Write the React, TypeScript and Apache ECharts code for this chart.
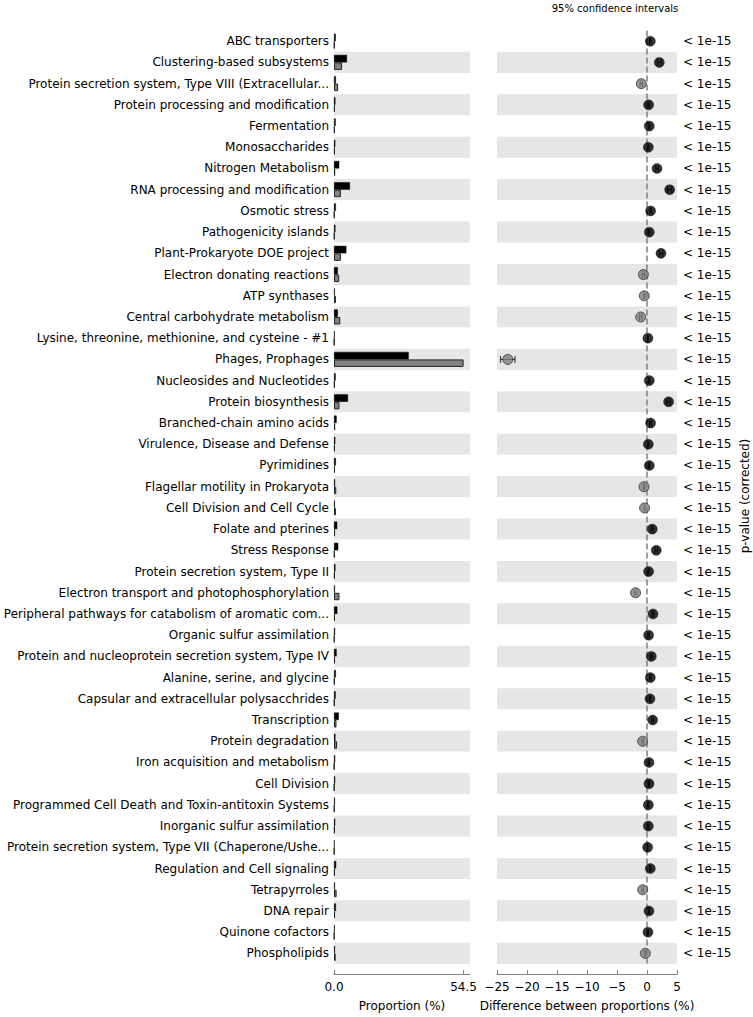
import React, { useEffect, useRef } from "react";
import * as echarts from "echarts";

const categories = [
  "ABC transporters",
  "Clustering-based subsystems",
  "Protein secretion system, Type VIII (Extracellular...",
  "Protein processing and modification",
  "Fermentation",
  "Monosaccharides",
  "Nitrogen Metabolism",
  "RNA processing and modification",
  "Osmotic stress",
  "Pathogenicity islands",
  "Plant-Prokaryote DOE project",
  "Electron donating reactions",
  "ATP synthases",
  "Central carbohydrate metabolism",
  "Lysine, threonine, methionine, and cysteine - #1",
  "Phages, Prophages",
  "Nucleosides and Nucleotides",
  "Protein biosynthesis",
  "Branched-chain amino acids",
  "Virulence, Disease and Defense",
  "Pyrimidines",
  "Flagellar motility in Prokaryota",
  "Cell Division and Cell Cycle",
  "Folate and pterines",
  "Stress Response",
  "Protein secretion system, Type II",
  "Electron transport and photophosphorylation",
  "Peripheral pathways for catabolism of aromatic com...",
  "Organic sulfur assimilation",
  "Protein and nucleoprotein secretion system, Type IV",
  "Alanine, serine, and glycine",
  "Capsular and extracellular polysacchrides",
  "Transcription",
  "Protein degradation",
  "Iron acquisition and metabolism",
  "Cell Division",
  "Programmed Cell Death and Toxin-antitoxin Systems",
  "Inorganic sulfur assimilation",
  "Protein secretion system, Type VII (Chaperone/Ushe...",
  "Regulation and Cell signaling",
  "Tetrapyrroles",
  "DNA repair",
  "Quinone cofactors",
  "Phospholipids",
];

// proportion (%) in group 1 (black) and group 2 (gray)
const group1 = [
  0.75, 5.45, 0.8, 0.6, 0.7, 0.55, 2.2, 6.7, 0.8, 0.6, 5.2, 1.6, 0.35, 1.6, 0.3,
  31.4, 0.7, 5.9, 1.1, 0.55, 0.8, 0.45, 0.4, 1.35, 1.8, 0.6, 0.4, 1.4, 0.45, 1.1,
  0.8, 0.7, 2.0, 0.6, 0.5, 0.5, 0.4, 0.5, 0.25, 0.9, 0.4, 0.8, 0.3, 0.4,
];
const group2 = [
  0.2, 3.4, 1.75, 0.35, 0.3, 0.35, 0.5, 2.9, 0.2, 0.2, 2.9, 2.2, 0.8, 2.65, 0.15,
  54.5, 0.3, 2.3, 0.5, 0.35, 0.4, 0.95, 0.8, 0.45, 0.25, 0.35, 2.3, 0.4, 0.2, 0.4,
  0.25, 0.2, 1.05, 1.3, 0.15, 0.15, 0.2, 0.3, 0.15, 0.35, 1.1, 0.45, 0.15, 0.7,
];

// difference between proportions (%) and half width of the 95% CI
const differences = [
  0.55, 2.05, -0.95, 0.27, 0.38, 0.22, 1.67, 3.78, 0.6, 0.38, 2.33, -0.6, -0.45,
  -1.05, 0.15, -23.2, 0.38, 3.6, 0.6, 0.22, 0.38, -0.5, -0.4, 0.88, 1.55, 0.27,
  -1.9, 1.0, 0.27, 0.72, 0.55, 0.5, 0.94, -0.72, 0.33, 0.33, 0.22, 0.22, 0.1,
  0.55, -0.72, 0.33, 0.16, -0.28,
];
const ciHalfWidths = [
  0.1, 0.3, 0.2, 0.1, 0.1, 0.1, 0.2, 0.35, 0.1, 0.1, 0.3, 0.2, 0.1, 0.2, 0.05,
  1.2, 0.1, 0.3, 0.15, 0.1, 0.1, 0.1, 0.1, 0.15, 0.2, 0.1, 0.2, 0.15, 0.1, 0.15,
  0.1, 0.1, 0.2, 0.15, 0.1, 0.1, 0.1, 0.1, 0.05, 0.1, 0.15, 0.1, 0.05, 0.1,
];

const pValues = [
  "< 1e-15", "< 1e-15", "< 1e-15", "< 1e-15", "< 1e-15", "< 1e-15", "< 1e-15",
  "< 1e-15", "< 1e-15", "< 1e-15", "< 1e-15", "< 1e-15", "< 1e-15", "< 1e-15",
  "< 1e-15", "< 1e-15", "< 1e-15", "< 1e-15", "< 1e-15", "< 1e-15", "< 1e-15",
  "< 1e-15", "< 1e-15", "< 1e-15", "< 1e-15", "< 1e-15", "< 1e-15", "< 1e-15",
  "< 1e-15", "< 1e-15", "< 1e-15", "< 1e-15", "< 1e-15", "< 1e-15", "< 1e-15",
  "< 1e-15", "< 1e-15", "< 1e-15", "< 1e-15", "< 1e-15", "< 1e-15", "< 1e-15",
  "< 1e-15", "< 1e-15",
];

const proportionTicks = [0, 54.5];
const proportionMax = 57.2;
const differenceTicks = [-25, -20, -15, -10, -5, 0, 5];

const FONT = "DejaVu Sans";
const FS = 12;
const BAND = "#e6e6e6";
const AXIS_GRAY = "#808080";

export default function App() {
  const ref = useRef<HTMLDivElement>(null);

  useEffect(() => {
    if (!ref.current) return;
    const chart = echarts.init(ref.current, undefined, { renderer: "svg" });
    const top = 30.6;
    const bottomEdge = 967;
    const height = bottomEdge - top;

    const option: any = {
      animation: false,
      textStyle: { fontFamily: FONT },
      grid: [
        { left: 334, top, width: 136, height, containLabel: false },
        { left: 497, top, width: 180, height, containLabel: false },
      ],
      xAxis: [
        {
          gridIndex: 0,
          type: "value",
          min: 0,
          max: proportionMax,
          offset: 10,
          splitLine: { show: false },
          axisLine: { show: true, lineStyle: { color: AXIS_GRAY, width: 1 } },
          axisTick: {
            show: true,
            inside: true,
            length: 4,
            customValues: proportionTicks,
            lineStyle: { color: AXIS_GRAY },
          },
          axisLabel: {
            customValues: proportionTicks,
            formatter: (v: number) => v.toFixed(1),
            color: "#000",
            fontSize: FS,
            margin: 7,
            fontFamily: FONT,
          },
          name: "Proportion (%)",
          nameLocation: "middle",
          nameGap: 26,
          nameTextStyle: { color: "#000", fontSize: FS, fontFamily: FONT },
        },
        {
          gridIndex: 1,
          type: "value",
          min: differenceTicks[0],
          max: differenceTicks[differenceTicks.length - 1],
          interval: 5,
          offset: 10,
          splitLine: { show: false },
          axisLine: { show: true, lineStyle: { color: AXIS_GRAY, width: 1 } },
          axisTick: {
            show: true,
            inside: true,
            length: 4,
            lineStyle: { color: AXIS_GRAY },
          },
          axisLabel: {
            formatter: (v: number) => (v < 0 ? "\u2212" + Math.abs(v) : String(v)),
            color: "#000",
            fontSize: FS,
            margin: 7,
            fontFamily: FONT,
            showMinLabel: true,
            showMaxLabel: true,
          },
          name: "Difference between proportions (%)",
          nameLocation: "middle",
          nameGap: 26,
          nameTextStyle: { color: "#000", fontSize: FS, fontFamily: FONT },
        },
      ],
      yAxis: [
        {
          gridIndex: 0,
          type: "category",
          data: categories,
          inverse: true,
          axisLine: { show: false },
          axisTick: { show: false },
          axisLabel: {
            interval: 0,
            color: "#000",
            fontSize: FS,
            margin: 5,
            fontFamily: FONT,
          },
          splitLine: { show: false },
          splitArea: {
            show: true,
            interval: 0,
            areaStyle: { color: ["#ffffff", BAND] },
          },
        },
        {
          gridIndex: 1,
          type: "category",
          data: categories,
          inverse: true,
          position: "right",
          axisLine: { show: false },
          axisTick: { show: false },
          axisLabel: {
            interval: 0,
            color: "#000",
            fontSize: FS,
            margin: 6,
            fontFamily: FONT,
            formatter: (_v: string, i: number) => pValues[i],
          },
          splitLine: { show: false },
          splitArea: {
            show: true,
            interval: 0,
            areaStyle: { color: ["#ffffff", BAND] },
          },
        },
      ],
      series: [
        {
          type: "bar",
          xAxisIndex: 0,
          yAxisIndex: 0,
          data: group1,
          barWidth: 7.5,
          barGap: "0%",
          itemStyle: { color: "#000000", borderColor: "#000", borderWidth: 0.5 },
        },
        {
          type: "bar",
          xAxisIndex: 0,
          yAxisIndex: 0,
          data: group2,
          barWidth: 7.5,
          barGap: "0%",
          itemStyle: { color: "#808080", borderColor: "#222", borderWidth: 1 },
        },
        {
          type: "custom",
          xAxisIndex: 1,
          yAxisIndex: 1,
          data: differences.map((d, i) => [d - ciHalfWidths[i], d + ciHalfWidths[i], i]),
          encode: { x: [0, 1], y: 2 },
          renderItem: (params: any, api: any) => {
            const lo = api.coord([api.value(0), api.value(2)]);
            const hi = api.coord([api.value(1), api.value(2)]);
            const style = { stroke: "#222", lineWidth: 1 };
            const cap = 3.5;
            return {
              type: "group",
              children: [
                { type: "line", shape: { x1: lo[0], y1: lo[1], x2: hi[0], y2: hi[1] }, style },
                { type: "line", shape: { x1: lo[0], y1: lo[1] - cap, x2: lo[0], y2: lo[1] + cap }, style },
                { type: "line", shape: { x1: hi[0], y1: hi[1] - cap, x2: hi[0], y2: hi[1] + cap }, style },
              ],
            };
          },
          z: 3,
        },
        {
          type: "scatter",
          xAxisIndex: 1,
          yAxisIndex: 1,
          symbolSize: 10,
          z: 4,
          data: differences.map((d, i) => ({
            value: [d, i],
            itemStyle:
              d >= 0
                ? { color: "#000000", borderColor: "#000", borderWidth: 0.5 }
                : { color: "#808080", borderColor: "#333", borderWidth: 1 },
          })),
          markLine: {
            silent: true,
            symbol: "none",
            label: { show: false },
            lineStyle: { color: AXIS_GRAY, type: [6, 3], width: 1.5 },
            data: [{ xAxis: 0 }],
            z: 2,
          },
        },
      ],
      graphic: [
        {
          type: "text",
          x: 615,
          y: 8,
          style: {
            text: "95% confidence intervals",
            fill: "#000",
            font: `10px "${FONT}"`,
            textAlign: "center",
            textVerticalAlign: "middle",
          },
        },
        {
          type: "text",
          x: 745,
          y: 496,
          rotation: Math.PI / 2,
          style: {
            text: "p-value (corrected)",
            fill: "#000",
            font: `12px "${FONT}"`,
            textAlign: "center",
            textVerticalAlign: "middle",
          },
        },
      ],
    };

    chart.setOption(option);
    return () => chart.dispose();
  }, []);

  return (
    <div
      ref={ref}
      style={{ position: "fixed", left: 0, top: 0, width: 753, height: 1017, background: "#fff" }}
    />
  );
}
